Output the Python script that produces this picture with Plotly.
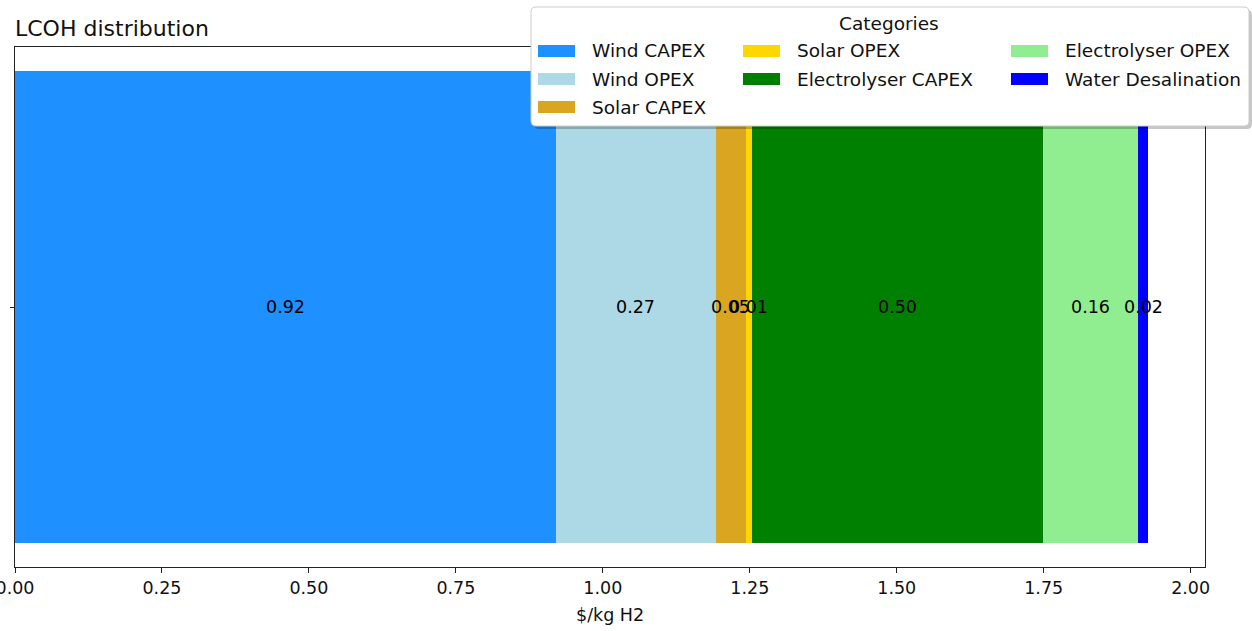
import plotly.graph_objects as go

# LCOH cost components ($/kg H2)
categories = ["Wind CAPEX", "Wind OPEX", "Solar CAPEX", "Solar OPEX",
              "Electrolyser CAPEX", "Electrolyser OPEX", "Water Desalination"]
values = [0.92, 0.272, 0.052, 0.009, 0.496, 0.162, 0.017]
colors = ["#1E90FF", "#ADD8E6", "#DAA520", "#FFD700",
          "#008000", "#90EE90", "#0000FF"]
x_ticks = [0.0, 0.25, 0.5, 0.75, 1.0, 1.25, 1.5, 1.75, 2.0]

FIG_W, FIG_H = 1252, 631
M_L, M_R, M_T, M_B = 15, 47, 47, 64
PW = FIG_W - M_L - M_R
PH = FIG_H - M_T - M_B
FONT = "DejaVu Sans"
TXT = "#111111"


def px(xp):
    return (xp - M_L) / PW


def py(yp):
    return (FIG_H - M_B - yp) / PH


fig = go.Figure()

left = 0.0
annotations = []
for name, v, c in zip(categories, values, colors):
    fig.add_trace(go.Bar(
        x=[v], y=[0], base=[left], orientation="h", width=0.8,
        marker=dict(color=c, line=dict(width=0)), name=name,
        showlegend=False, hoverinfo="x+name",
    ))
    annotations.append(dict(
        x=left + v / 2, y=0, xref="x", yref="y", text=f"{v:.2f}",
        showarrow=False, font=dict(family=FONT, size=17.5, color="black"),
        xanchor="center", yanchor="middle",
    ))
    left += v

total = sum(values)

# title and axis label
annotations.append(dict(
    x=px(13), y=py(29), xref="paper", yref="paper", text="LCOH distribution",
    showarrow=False, xanchor="left", yanchor="middle",
    font=dict(family=FONT, size=22, color=TXT),
))
annotations.append(dict(
    x=0.5, y=py(615), xref="paper", yref="paper", text="$/kg H2",
    showarrow=False, xanchor="center", yanchor="middle",
    font=dict(family=FONT, size=17.5, color=TXT),
))

# legend box (drawn as shapes + text), three columns filled top-down
shapes = []
bx0, bx1, by0, by1 = 531, 1249, 7, 126
r = 5


def rounded_rect(x0, y0, x1, y1, rad):
    return (f"M {px(x0 + rad)} {py(y0)} L {px(x1 - rad)} {py(y0)} "
            f"Q {px(x1)} {py(y0)} {px(x1)} {py(y0 + rad)} "
            f"L {px(x1)} {py(y1 - rad)} Q {px(x1)} {py(y1)} {px(x1 - rad)} {py(y1)} "
            f"L {px(x0 + rad)} {py(y1)} Q {px(x0)} {py(y1)} {px(x0)} {py(y1 - rad)} "
            f"L {px(x0)} {py(y0 + rad)} Q {px(x0)} {py(y0)} {px(x0 + rad)} {py(y0)} Z")


shapes.append(dict(type="path", xref="paper", yref="paper",
                   path=rounded_rect(bx0 + 3, by0 + 3, bx1 + 3, by1 + 3, r),
                   fillcolor="rgba(0,0,0,0.22)", line=dict(width=0), layer="above"))
shapes.append(dict(type="path", xref="paper", yref="paper",
                   path=rounded_rect(bx0, by0, bx1, by1, r),
                   fillcolor="white", line=dict(color="#cccccc", width=1), layer="above"))

annotations.append(dict(
    x=px(889), y=py(24), xref="paper", yref="paper", text="Categories",
    showarrow=False, xanchor="center", yanchor="middle",
    font=dict(family=FONT, size=18.5, color=TXT),
))

col_x = [538, 743, 1011]
row_y = [51, 79, 107]
col_sizes = [3, 2, 2]
handle_w, handle_h, text_pad = 37, 12, 15
idx = 0
for ci, n in enumerate(col_sizes):
    for ri in range(n):
        name, c = categories[idx], colors[idx]
        hx, hy = col_x[ci], row_y[ri]
        shapes.append(dict(type="rect", xref="paper", yref="paper",
                           x0=px(hx), x1=px(hx + handle_w),
                           y0=py(hy - handle_h / 2), y1=py(hy + handle_h / 2),
                           fillcolor=c, line=dict(width=0), layer="above"))
        annotations.append(dict(
            x=px(hx + handle_w + text_pad), y=py(hy), xref="paper", yref="paper",
            text=name, showarrow=False, xanchor="left", yanchor="middle",
            font=dict(family=FONT, size=18.5, color=TXT),
        ))
        idx += 1

fig.update_layout(
    width=FIG_W, height=FIG_H,
    margin=dict(l=M_L, r=M_R, t=M_T, b=M_B, pad=0, autoexpand=False),
    paper_bgcolor="white", plot_bgcolor="white",
    barmode="overlay", bargap=0,
    showlegend=False,
    annotations=annotations, shapes=shapes,
    xaxis=dict(
        range=[0, total * 1.05], tickvals=x_ticks,
        ticktext=[f"{t:.2f}" for t in x_ticks],
        ticks="outside", ticklen=5, tickwidth=1, tickcolor="#222",
        showline=True, linecolor="#222", linewidth=1, mirror=True,
        showgrid=False, zeroline=False, ticklabeloverflow="allow",
        automargin=False,
        tickfont=dict(family=FONT, size=17.5, color=TXT),
    ),
    yaxis=dict(
        range=[-0.44, 0.44], tickvals=[0], ticktext=[""],
        ticks="outside", ticklen=4, tickwidth=1, tickcolor="#222",
        showline=True, linecolor="#222", linewidth=1, mirror=True,
        showgrid=False, zeroline=False, automargin=False,
    ),
)

fig.write_html("out.html")
